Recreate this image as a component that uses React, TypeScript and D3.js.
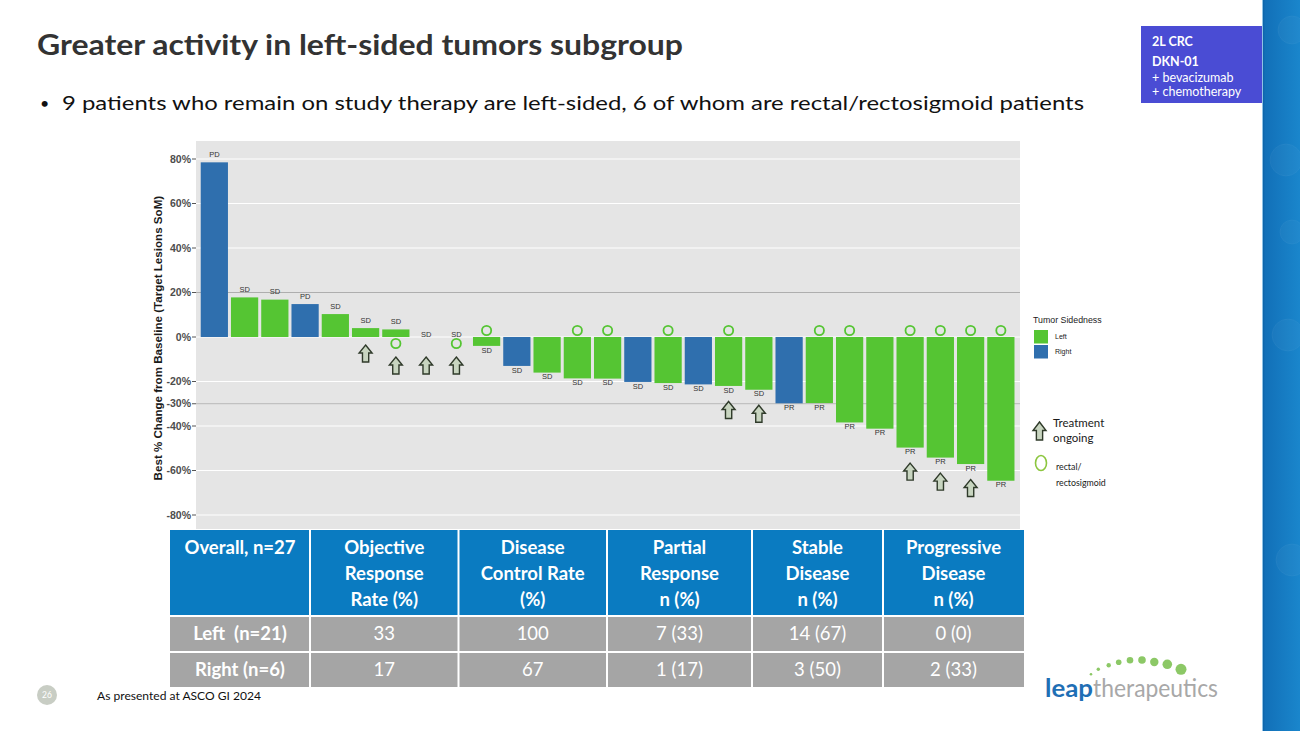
import React from 'react';
import * as d3 from 'd3';

// waterfall data, one entry per patient (left to right)
const changes = [78.5, 17.8, 16.8, 14.8, 10.3, 4.0, 3.4, 0, 0, -4.0, -13.0, -16.0, -18.6, -18.7, -20.2, -20.7, -21.3, -22.0, -23.7, -29.8, -29.7, -38.4, -41.2, -49.7, -54.2, -57.1, -64.6];
const sidedness = ['Right', 'Left', 'Left', 'Right', 'Left', 'Left', 'Left', 'Left', 'Left', 'Left', 'Right', 'Left', 'Left', 'Left', 'Right', 'Left', 'Right', 'Left', 'Left', 'Right', 'Left', 'Left', 'Left', 'Left', 'Left', 'Left', 'Left'];
const responses = ['PD', 'SD', 'SD', 'PD', 'SD', 'SD', 'SD', 'SD', 'SD', 'SD', 'SD', 'SD', 'SD', 'SD', 'SD', 'SD', 'SD', 'SD', 'SD', 'PR', 'PR', 'PR', 'PR', 'PR', 'PR', 'PR', 'PR'];
const rectal = [0, 0, 0, 0, 0, 0, 1, 0, 1, 1, 0, 0, 1, 1, 0, 1, 0, 1, 0, 0, 1, 1, 0, 1, 1, 1, 1];
const ongoing = [0, 0, 0, 0, 0, 1, 1, 1, 1, 0, 0, 0, 0, 0, 0, 0, 0, 1, 1, 0, 0, 0, 0, 1, 1, 1, 0];

const yTicks = [80, 60, 40, 20, 0, -20, -30, -40, -60, -80];
const refLines = [20, -30];
const sideLevels = ['Left', 'Right'];

// summary table
const tableHeader = [
  ['Overall, n=27'],
  ['Objective', 'Response', 'Rate (%)'],
  ['Disease', 'Control Rate', '(%)'],
  ['Partial', 'Response', 'n (%)'],
  ['Stable', 'Disease', 'n (%)'],
  ['Progressive', 'Disease', 'n (%)'],
];
const tableRows = [
  ['Left  (n=21)', '33', '100', '7 (33)', '14 (67)', '0 (0)'],
  ['Right (n=6)', '17', '67', '1 (17)', '3 (50)', '2 (33)'],
];

const GREEN = '#55c533';
const BLUE = '#2f6fae';
const SANS = 'Lato, "Open Sans", sans-serif';
const ARIAL = '"Liberation Sans", Arial, sans-serif';

function upArrow(cx: number, top: number, h = 17, w = 13) {
  const head = h * 0.47;
  const sw = w * 0.24;
  return `M${cx},${top} L${cx + w / 2},${top + head} L${cx + sw},${top + head} L${cx + sw},${top + h} L${cx - sw},${top + h} L${cx - sw},${top + head} L${cx - w / 2},${top + head} Z`;
}

export default function App() {
  const idx = changes.map((_, i) => String(i));
  const x = d3.scaleBand().domain(idx).range([197.7, 1017.5]).paddingInner(0.1).paddingOuter(0.1);
  const y = d3.scaleLinear().domain([-80, 80]).range([515, 159]);
  const color = d3.scaleOrdinal<string, string>().domain(sideLevels).range([GREEN, BLUE]);
  const y0 = y(0);

  // table geometry
  const colEdges = [170, 310, 458.5, 607, 752, 883, 1024];
  const headTop = 530, headBot = 615;
  const rowTops = [617, 653];
  const rowH = 34;

  const dots = [
    [1091, 674.3, 1.3], [1098.3, 669.3, 1.7], [1108.7, 665.3, 2.2], [1118.7, 662.3, 2.8],
    [1130, 660.3, 3.3], [1142, 660, 3.8], [1154.3, 662, 4.2], [1167.3, 664.3, 4.8], [1181, 669.3, 5.5],
  ];

  return (
    <svg width={1300} height={731} style={{ position: 'absolute', left: 0, top: 0 }} fontFamily={SANS}>
      <defs>
        <linearGradient id="strip" x1="0" x2="1" y1="0" y2="0">
          <stop offset="0" stopColor="#0c5c9e" />
          <stop offset="0.08" stopColor="#1270b8" />
          <stop offset="1" stopColor="#1a86cc" />
        </linearGradient>
      </defs>
      <rect width={1300} height={731} fill="#ffffff" />

      {/* right decorative strip */}
      <rect x={1262} y={0} width={38} height={731} fill="url(#strip)" />
      <line x1={1262.5} x2={1262.5} y1={0} y2={731} stroke="#8fc3e6" strokeWidth={1} />
      {[[1292, 30, 14], [1286, 160, 16], [1292, 232, 12], [1288, 335, 16], [1292, 560, 16]].map(([cx, cy, r], i) => (
        <circle key={i} cx={cx} cy={cy} r={r} fill="#ffffff" fillOpacity={0.03} stroke="#ffffff" strokeOpacity={0.04} />
      ))}

      {/* badge */}
      <rect x={1141} y={26} width={121} height={77} fill="#4a4cd4" />
      <g fill="#ffffff" fontSize={12.5}>
        <text x={1152} y={46} fontWeight="bold">2L CRC</text>
        <text x={1152} y={65.5} fontWeight="bold">DKN-01</text>
        <text x={1152} y={81.5}>+ bevacizumab</text>
        <text x={1152} y={96}>+ chemotherapy</text>
      </g>

      {/* title and bullet */}
      <text x={37} y={55} fontSize={29} fontWeight="bold" fill="#333333" textLength={646} lengthAdjust="spacingAndGlyphs">
        Greater activity in left-sided tumors subgroup
      </text>
      <text x={40} y={109} fontSize={16} fill="#111111">•</text>
      <text x={62} y={110} fontSize={19.5} fill="#111111" textLength={1022} lengthAdjust="spacingAndGlyphs">
        9 patients who remain on study therapy are left-sided, 6 of whom are rectal/rectosigmoid patients
      </text>

      {/* chart panel */}
      <rect x={196} y={141} width={824} height={388} fill="#e5e5e5" />
      {yTicks.map((t) => (
        <line key={t} x1={196} x2={1020} y1={y(t)} y2={y(t)} stroke="#ffffff" strokeWidth={1} />
      ))}
      {refLines.map((t) => (
        <line key={'r' + t} x1={196} x2={1020} y1={y(t)} y2={y(t)} stroke="#aeaeae" strokeWidth={1.2} />
      ))}
      <g fontFamily={ARIAL}>
        {yTicks.map((t) => (
          <g key={'t' + t}>
            <line x1={192} x2={196} y1={y(t)} y2={y(t)} stroke="#555555" />
            <text x={191} y={y(t)} dy="0.35em" textAnchor="end" fontSize={10.5} fontWeight="bold" fill="#4d4d4d">
              {t}%
            </text>
          </g>
        ))}
        <text transform={`translate(162,${y(-0.5)}) rotate(-90)`} textAnchor="middle" fontSize={11.6} fontWeight="bold" fill="#1a1a1a">
          Best % Change from Baseline (Target Lesions SoM)
        </text>

        {changes.map((v, i) => {
          const k = String(i);
          const bx = x(k)!;
          const cx = bx + x.bandwidth() / 2;
          const top = y(Math.max(v, 0));
          const bot = y(Math.min(v, 0));
          let ly: number;
          if (v > 0) ly = top - 8;
          else if (v === 0) ly = y0 - 3;
          else ly = bot + 4;
          let arrowTop = 0;
          if (v >= 0) arrowTop = y0 + 8 + (rectal[i] || v === 0 ? 12 : 0);
          else arrowTop = bot + 15.5;
          return (
            <g key={k}>
              {v !== 0 && <rect x={bx} y={top} width={x.bandwidth()} height={bot - top} fill={color(sidedness[i])} />}
              <text x={cx} y={ly} dy="0.35em" textAnchor="middle" fontSize={7.5} fill="#333333">
                {responses[i]}
              </text>
              {rectal[i] ? (
                <circle cx={cx} cy={y0 + (v < 0 ? -6.5 : 6.5)} r={4.6} fill="none" stroke={GREEN} strokeWidth={1.8} />
              ) : null}
              {ongoing[i] ? (
                <path d={upArrow(cx, arrowTop)} fill="#c8d5c0" stroke="#2f3a2a" strokeWidth={1.4} strokeLinejoin="miter" />
              ) : null}
            </g>
          );
        })}

        {/* legend */}
        <text x={1033} y={323} fontSize={8.8} fill="#1a1a1a">Tumor Sidedness</text>
        {sideLevels.map((s, i) => (
          <g key={s}>
            <rect x={1034} y={330 + i * 15} width={14} height={13.5} fill={color(s)} />
            <text x={1055} y={337 + i * 15} dy="0.35em" fontSize={7} fill="#1a1a1a">{s}</text>
          </g>
        ))}
      </g>
      <path d={upArrow(1039.5, 422, 18, 13)} fill="#c8d5c0" stroke="#2f3a2a" strokeWidth={1.4} />
      <text x={1053} y={427} fontSize={11.5} fill="#1a1a1a">Treatment</text>
      <text x={1053} y={442} fontSize={11.5} fill="#1a1a1a">ongoing</text>
      <ellipse cx={1041} cy={463} rx={5.5} ry={7.5} fill="none" stroke="#8cc63f" strokeWidth={1.6} />
      <text x={1056} y={470} fontSize={8.8} fill="#1a1a1a">rectal/</text>
      <text x={1056} y={486} fontSize={8.8} fill="#1a1a1a">rectosigmoid</text>

      {/* table */}
      <rect x={colEdges[0]} y={headTop} width={colEdges[6] - colEdges[0]} height={headBot - headTop} fill="#0a7bc1" />
      {tableRows.map((_, r) => (
        <rect key={'bg' + r} x={colEdges[0]} y={rowTops[r]} width={colEdges[6] - colEdges[0]} height={rowH} fill="#a5a5a5" />
      ))}
      {colEdges.slice(1, 6).map((cx) => (
        <line key={'c' + cx} x1={cx} x2={cx} y1={headTop} y2={rowTops[1] + rowH} stroke="#ffffff" strokeWidth={2} />
      ))}
      {tableHeader.map((lines, c) => {
        const mid = (colEdges[c] + colEdges[c + 1]) / 2;
        return lines.map((ln, j) => (
          <text key={`h${c}-${j}`} x={mid} y={548 + j * 26} dy="0.35em" textAnchor="middle" fontSize={18.5} fontWeight="bold" fill="#ffffff">
            {ln}
          </text>
        ));
      })}
      {tableRows.map((row, r) =>
        row.map((cell, c) => (
          <text
            key={`b${r}-${c}`}
            x={(colEdges[c] + colEdges[c + 1]) / 2}
            y={rowTops[r] + rowH / 2}
            dy="0.35em"
            textAnchor="middle"
            fontSize={18.5}
            fontWeight={c === 0 ? 'bold' : 'normal'}
            fill="#ffffff"
            style={{ whiteSpace: 'pre' }}
          >
            {cell}
          </text>
        ))
      )}

      {/* footer */}
      <circle cx={47} cy={695} r={10} fill="#c8cdc4" />
      <text x={47} y={695} dy="0.35em" textAnchor="middle" fontSize={8.5} fill="#ffffff">26</text>
      <text x={97} y={700} fontSize={12} fill="#111111" textLength={164} lengthAdjust="spacingAndGlyphs">As presented at ASCO GI 2024</text>

      {/* logo */}
      {dots.map(([cx, cy, r], i) => (
        <circle key={'d' + i} cx={cx} cy={cy} r={r} fill="#8cc866" />
      ))}
      <text x={1045} y={697} fontSize={25} fontWeight="bold" fill="#1f6fb5" textLength={48} lengthAdjust="spacingAndGlyphs">leap</text>
      <text x={1093} y={697} fontSize={25} fill="#a8a8a8" textLength={125} lengthAdjust="spacingAndGlyphs">therapeutics</text>
    </svg>
  );
}
